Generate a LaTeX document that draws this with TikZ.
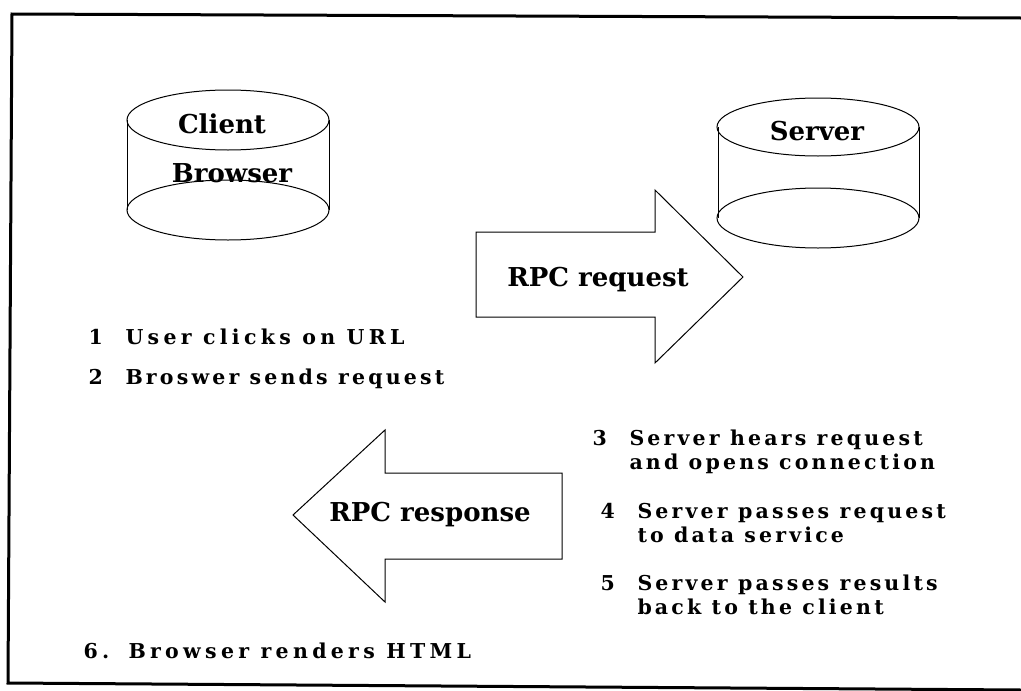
\documentclass[tikz,border=0pt]{standalone}
\usepackage{fontspec}
\setmainfont{DejaVu Serif}
\newfontfamily\stepfont[LetterSpace=15.5]{DejaVu Serif}
\newfontfamily\widestepfont[LetterSpace=21]{DejaVu Serif}
\begin{document}
\begin{tikzpicture}[x=1pt,y=-1pt,line width=1pt,
  frameline/.style={line width=3pt},
  outl/.style={line width=1pt},
  bigtxt/.style={font=\bfseries\fontsize{26}{30}\selectfont,inner sep=0pt},
  steptxt/.style={font=\stepfont\bfseries\fontsize{20.5}{24}\selectfont,inner sep=0pt,anchor=base west,align=left},
  widetxt/.style={steptxt,font=\widestepfont\bfseries\fontsize{20.5}{24}\selectfont}]
\useasboundingbox (0,0) rectangle (1021,691);
% frame
\draw[frameline] (1021,18) -- (12,14) -- (8,683) -- (1021,690);
% client cylinder
\draw[outl] (127,120) -- (127,210) (329,120) -- (329,210);
\draw[outl] (228,120) ellipse [x radius=101pt,y radius=30pt];
\draw[outl] (228,210) ellipse [x radius=101pt,y radius=30pt];
\node[bigtxt] (client) at (222,124) {Client};
\node[bigtxt] (browser) at (232,173) {Browser};
% server cylinder
\draw[outl] (718,127) -- (718,218) (919,127) -- (919,218);
\draw[outl] (818,127) ellipse [x radius=101pt,y radius=29pt];
\draw[outl] (818,218) ellipse [x radius=101pt,y radius=30pt];
\node[bigtxt] (server) at (817,131) {Server};
% RPC request arrow
\draw[outl] (476,232) -- (655,232) -- (655,190) -- (743,277) -- (655,363) -- (655,317) -- (476,317) -- cycle;
\node[bigtxt] (req) at (598,280) {RPC request};
% RPC response arrow
\draw[outl] (562,473) -- (385,473) -- (385,430) -- (293,515) -- (385,602) -- (385,559) -- (562,559) -- cycle;
\node[bigtxt] (resp) at (430,515) {RPC response};
% steps
\node[widetxt] (n1) at (88,344) {1};
\node[widetxt] (s1) at (125,344) {User clicks on URL};
\node[steptxt] (n2) at (88,384) {2};
\node[steptxt] (s2) at (125,384) {Broswer sends request};
\node[steptxt] (n3) at (592,445) {3};
\node[steptxt] (s3) at (629,469) {Server hears request\\and opens connection};
\node[steptxt] (n4) at (600,518) {4};
\node[steptxt] (s4) at (637,542) {Server passes request\\to data service};
\node[steptxt] (n5) at (600,590) {5};
\node[steptxt] (s5) at (637,614) {Server passes results\\back to the client};
\node[widetxt] (n6) at (83,658) {6.};
\node[widetxt] (s6) at (128,658) {Browser renders HTML};
\end{tikzpicture}
\end{document}
